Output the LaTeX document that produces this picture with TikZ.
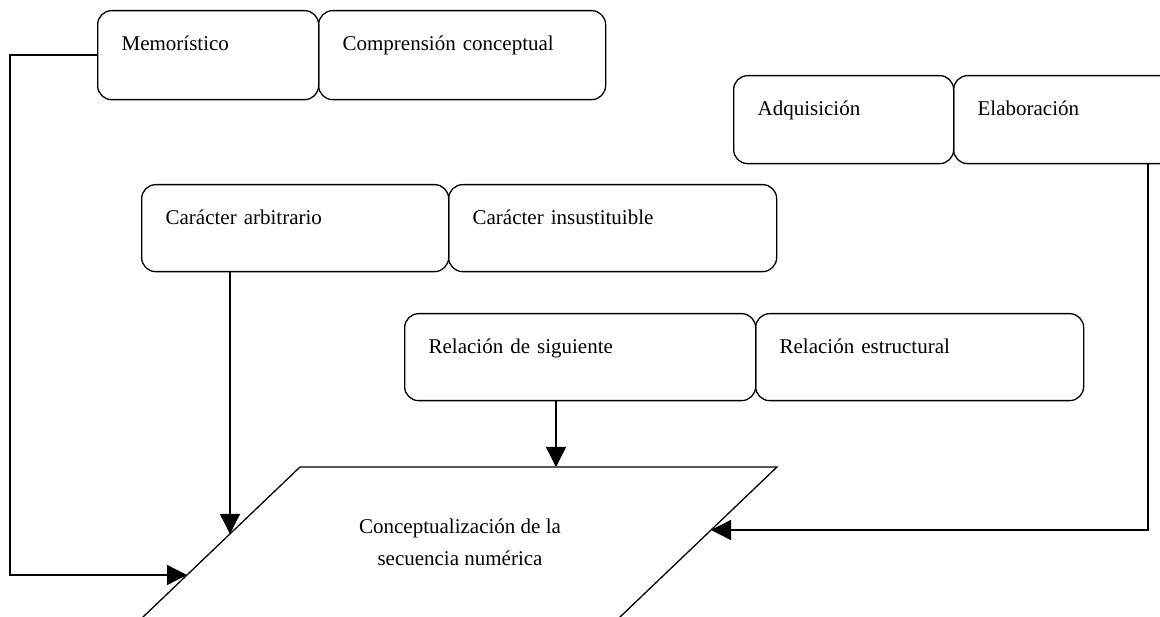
\documentclass[tikz,border=0pt]{standalone}
\usepackage{fontspec}
\setmainfont{Liberation Serif}
\usetikzlibrary{arrows.meta}

\begin{document}
\begin{tikzpicture}[x=1pt, y=-1pt,
	box/.style = {draw, line width=1.3pt, rounded corners=14pt, anchor=north west,
		inner xsep=24pt, inner ysep=0pt, align=left, text height=40pt,
		font=\fontsize{21}{28}\selectfont},
	link/.style = {line width=1.3pt, -{Triangle[length=20pt, width=20pt]}}]
	\useasboundingbox (0,0) rectangle (1160,617);
	\clip (0,0) rectangle (1160,617);

	\node[box, text width=173pt, text depth=49pt] (memo) at (97,10) {Memorístico};
	\node[box, text width=239pt, text depth=49pt] (comp) at (318,10) {Comprensión conceptual};

	\node[box, text width=172pt, text depth=48pt] (adq) at (733,75) {Adquisición};
	\node[box, text width=192pt, text depth=48pt] (elab) at (953,75) {Elaboración};

	\node[box, text width=259pt, text depth=47pt] (carac) at (141,184) {Carácter arbitrario};
	\node[box, text width=280pt, text depth=47pt] (insus) at (448,184) {Carácter insustituible};

	\node[box, text width=303pt, text depth=47pt] (relsig) at (404,313) {Relación de siguiente};
	\node[box, text width=280pt, text depth=47pt] (relest) at (755,313) {Relación estructural};

	% parallelogram
	\coordinate (ptl) at (300,467);
	\coordinate (ptr) at (777,467);
	\coordinate (pbr) at (585.5,650);
	\coordinate (pbl) at (108.5,650);
	\draw[line width=1.3pt] (ptl) -- (ptr) -- (pbr) -- (pbl) -- cycle;
	\node[align=center, font=\fontsize{21}{32}\selectfont] (concept) at (460,542)
		{Conceptualización de la\\secuencia numérica};

	% arrow ends
	\coordinate (turnL) at (10,575);
	\coordinate (inL) at (187,575);
	\coordinate (inC) at (230,534);
	\coordinate (inT) at (556,467);
	\coordinate (turnR) at (1148,530);
	\coordinate (inR) at (711,530);

	\draw[link] (memo.west) -| (turnL) -- (inL);
	\draw[link] (inC |- carac.south) -- (inC);
	\draw[link] (inT |- relsig.south) -- (inT);
	\draw[link] (turnR |- elab.south) -- (turnR) -- (inR);
\end{tikzpicture}
\end{document}
